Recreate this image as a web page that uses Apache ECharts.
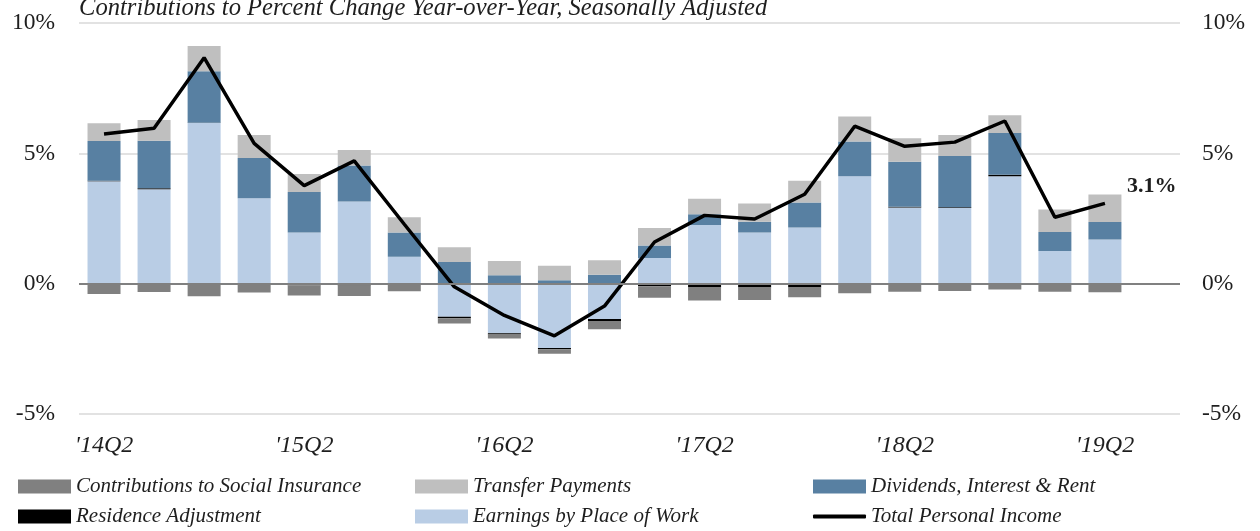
<!DOCTYPE html>
<html>
<head>
<meta charset="utf-8">
<script src="https://cdn.jsdelivr.net/npm/echarts@6/dist/echarts.min.js"></script>
<style>
html, body { margin: 0; padding: 0; background: #fff; }
#chart { width: 1260px; height: 531px; }
</style>
</head>
<body>
<div id="chart"></div>
<script>
// quarters, last one left empty to make room for the end label
var quarters = ["'14Q2", "'14Q3", "'14Q4", "'15Q1", "'15Q2", "'15Q3", "'15Q4", "'16Q1", "'16Q2", "'16Q3", "'16Q4",
	"'17Q1", "'17Q2", "'17Q3", "'17Q4", "'18Q1", "'18Q2", "'18Q3", "'18Q4", "'19Q1", "'19Q2", "'19Q3"];

// contributions to y/y % change
var earnings      = [3.93, 3.62, 6.16, 3.28, 1.96, 3.15, 1.03, -1.27, -1.90, -2.47, -1.36, 0.98, 2.25, 1.96, 2.15, 4.12, 2.92, 2.90, 4.12, 1.25, 1.69];
var residence     = [0.02, 0.04, 0.01, 0.00, -0.06, -0.07, 0.00, -0.06, -0.05, -0.05, -0.07, -0.10, -0.15, -0.15, -0.15, 0.00, 0.03, 0.03, 0.06, 0.00, 0.00];
var dividends     = [1.52, 1.82, 1.98, 1.54, 1.56, 1.38, 0.93, 0.83, 0.32, 0.13, 0.34, 0.48, 0.41, 0.42, 0.96, 1.33, 1.73, 1.97, 1.60, 0.73, 0.68];
var transfers     = [0.68, 0.80, 0.97, 0.88, 0.69, 0.60, 0.59, 0.57, 0.55, 0.56, 0.56, 0.68, 0.60, 0.70, 0.84, 0.96, 0.90, 0.80, 0.68, 0.87, 1.05];
var contributions = [-0.40, -0.32, -0.48, -0.34, -0.39, -0.40, -0.29, -0.20, -0.15, -0.17, -0.32, -0.44, -0.50, -0.48, -0.37, -0.37, -0.31, -0.28, -0.22, -0.31, -0.33];
var totalIncome   = [5.74, 5.96, 8.67, 5.38, 3.76, 4.71, 2.28, -0.12, -1.22, -2.00, -0.86, 1.60, 2.62, 2.48, 3.43, 6.04, 5.27, 5.43, 6.24, 2.55, 3.08];

var serif = 'Liberation Serif';
var textColor = '#1e1e1e';

var chart = echarts.init(document.getElementById('chart'));

// one legend box per entry, laid out as a 3 x 2 table
function legendItem(left, top, name, iconH, icon) {
	return {
		left: left, top: top, padding: 0,
		itemWidth: 53, itemHeight: iconH,
		icon: icon || 'rect',
		textStyle: { fontFamily: serif, fontStyle: 'italic', fontSize: 21, color: textColor },
		data: [name]
	};
}

function barSeries(name, data, color) {
	return {
		name: name, type: 'bar', stack: 'pi', data: data,
		barWidth: 33,
		itemStyle: { color: color }
	};
}

var earningsSeries = barSeries('Earnings by Place of Work', earnings, '#B9CDE5');
earningsSeries.markLine = {
	silent: true,
	symbol: ['none', 'none'],
	label: { show: false },
	lineStyle: { color: '#808080', width: 2, type: 'solid' },
	data: [{ yAxis: 0 }]
};

var option = {
	animation: false,
	title: {
		text: 'Contributions to Percent Change Year-over-Year, Seasonally Adjusted',
		left: 79, top: -4, padding: 0,
		textStyle: { fontFamily: serif, fontStyle: 'italic', fontWeight: 'normal', fontSize: 24.6, color: textColor }
	},
	grid: { left: 79, right: 80, top: 23, bottom: 117 },
	legend: [
		legendItem(18, 476, 'Contributions to Social Insurance', 14),
		legendItem(18, 506, 'Residence Adjustment', 14),
		legendItem(415, 476, 'Transfer Payments', 14),
		legendItem(415, 506, 'Earnings by Place of Work', 14),
		legendItem(813, 476, 'Dividends, Interest & Rent', 14),
		legendItem(813, 506, 'Total Personal Income', 4, 'roundRect')
	],
	xAxis: {
		type: 'category',
		data: quarters,
		axisLine: { show: false, onZero: false },
		axisTick: { show: false },
		axisLabel: {
			interval: 3,
			margin: 20,
			fontFamily: serif, fontStyle: 'italic', fontSize: 24, color: textColor
		}
	},
	yAxis: [{
		type: 'value', min: -5, max: 10, interval: 5, position: 'left',
		axisLine: { show: false }, axisTick: { show: false },
		axisLabel: { formatter: '{value}%', margin: 24, fontFamily: serif, fontSize: 23.5, color: textColor },
		splitLine: { lineStyle: { color: '#D9D9D9', width: 1.5 } }
	}, {
		type: 'value', min: -5, max: 10, interval: 5, position: 'right',
		axisLine: { show: false }, axisTick: { show: false },
		axisLabel: { formatter: '{value}%', margin: 22, fontFamily: serif, fontSize: 23.5, color: textColor },
		splitLine: { show: false }
	}],
	series: [
		earningsSeries,
		barSeries('Residence Adjustment', residence, '#000000'),
		barSeries('Dividends, Interest & Rent', dividends, '#5880A2'),
		barSeries('Transfer Payments', transfers, '#BFBFBF'),
		barSeries('Contributions to Social Insurance', contributions, '#808080'),
		{
			name: 'Total Personal Income', type: 'line', data: totalIncome,
			symbol: 'none',
			lineStyle: { color: '#000', width: 3.5 },
			itemStyle: { color: '#000' },
			endLabel: {
				show: true,
				distance: 22,
				offset: [0, -17],
				formatter: function (p) { return p.value.toFixed(1) + '%'; },
				fontFamily: serif, fontWeight: 'bold', fontSize: 22, color: textColor
			}
		}
	]
};

chart.setOption(option);
</script>
</body>
</html>
